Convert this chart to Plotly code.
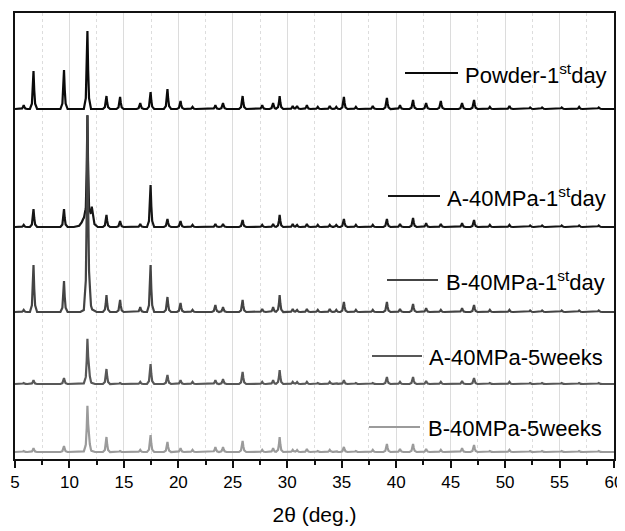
import numpy as np
import plotly.graph_objects as go

# ---------------- data ----------------
# Peak positions (2theta, deg.)
peak_pos = [5.8, 6.7, 9.5, 11.65, 13.4, 14.65, 16.5, 17.45, 19.0, 20.2, 21.3,
            23.4, 24.1, 25.9, 27.7, 28.7, 29.3, 30.5, 30.9, 31.8, 32.8, 33.9,
            34.5, 35.2, 36.3, 37.85, 39.15, 40.35, 41.55, 42.75, 44.1, 46.05,
            47.15, 48.6, 50.4, 52.3, 53.4, 55.2, 56.8, 58.6]

# Peak heights above each pattern's baseline (a.u.)
powder_h = [4, 38, 39, 78, 13, 12, 6, 17, 20, 8, 2,
            4, 6, 13, 4, 6, 13, 3, 3, 4, 2, 3,
            2, 12, 2, 3, 11, 4, 9, 6, 8, 6,
            9, 2, 3, 1.5, 1.5, 1.5, 2, 1.5]
a1_h = [2, 18, 18, 108, 12, 6, 3, 42, 8, 6, 2,
        3, 3, 7, 2, 3, 12, 3, 2, 3, 2, 2,
        2, 8, 2, 2, 8, 3, 9, 4, 3, 4,
        7, 2, 2, 1.5, 1.5, 1.5, 1.5, 1.5]
b1_h = [2, 47, 31, 185, 17, 12, 5, 47, 15, 9, 2,
        7, 5, 12, 3, 5, 17, 3, 2, 3, 2, 3,
        2, 10, 2, 2, 10, 3, 8, 4, 2, 4,
        7, 2, 2, 1.5, 1.5, 1.5, 1.5, 1.5]
a5_h = [1, 4, 6, 40, 15, 1, 2, 20, 9, 4, 2,
        4, 5, 12, 2, 4, 14, 2, 2, 2, 1, 2,
        1, 4, 1, 1, 7, 2, 7, 3, 2, 3,
        6, 1, 2, 1, 1, 1, 1, 1]
b5_h = [1, 4, 6, 41, 15, 1, 2, 17, 10, 4, 2,
        5, 5, 11, 2, 4, 15, 2, 2, 3, 1, 2,
        1, 5, 1, 2, 8, 3, 8, 3, 2, 4,
        7, 1, 2, 1, 1, 1, 1, 1]

# Broad features (position, height, half-base width in deg.)
a1_broad_pos = [11.3, 12.05]
a1_broad_h = [9, 20]
a1_broad_w = [0.9, 0.55]
b1_broad_pos = [11.75]
b1_broad_h = [18]
b1_broad_w = [0.75]
a5_broad_pos = [11.75]
a5_broad_h = [9]
a5_broad_w = [0.6]
b5_broad_pos = [11.75]
b5_broad_h = [9]
b5_broad_w = [0.6]

# Baselines (vertical offset of each pattern, a.u.)
baselines = [350, 232, 147, 75, 7]
names = ["Powder-1<sup>st</sup>day", "A-40MPa-1<sup>st</sup>day",
         "B-40MPa-1<sup>st</sup>day", "A-40MPa-5weeks", "B-40MPa-5weeks"]
colors = ["#0a0a0a", "#161616", "#444444", "#585858", "#9b9b9b"]

x_ticks = [5, 10, 15, 20, 25, 30, 35, 40, 45, 50, 55, 60]

# ---------------- build profiles ----------------
SHAPE_OFF = np.array([-1.0, -0.45, -0.2, 0.0, 0.2, 0.45, 1.0])
SHAPE_FR = np.array([0.0, 0.14, 0.5, 1.0, 0.5, 0.14, 0.0])
NARROW = 0.33


def profile(base, heights, bpos, bh, bw):
    peaks = [(p, h, NARROW) for p, h in zip(peak_pos, heights)]
    peaks += list(zip(bpos, bh, bw))
    xs = {5.0, 60.0}
    for p, h, s in peaks:
        xs.update((p + SHAPE_OFF * s).tolist())
    xs = np.array(sorted(v for v in xs if 5.0 <= v <= 60.0))
    ys = np.full_like(xs, float(base))
    for p, h, s in peaks:
        ys += np.interp(xs, p + SHAPE_OFF * s, h * SHAPE_FR, left=0, right=0)
    return xs, ys


series = [
    (powder_h, [], [], []),
    (a1_h, a1_broad_pos, a1_broad_h, a1_broad_w),
    (b1_h, b1_broad_pos, b1_broad_h, b1_broad_w),
    (a5_h, a5_broad_pos, a5_broad_h, a5_broad_w),
    (b5_h, b5_broad_pos, b5_broad_h, b5_broad_w),
]

fig = go.Figure()
for (h, bp, bh, bw), base, name, col in zip(series, baselines, names, colors):
    xs, ys = profile(base, h, bp, bh, bw)
    fig.add_trace(go.Scatter(x=xs, y=ys, mode="lines", name=name,
                             line=dict(color=col, width=2.2), showlegend=False))

# ---------------- layout ----------------
# page body has an 8px margin; figure sized so the plot area lands at
# page x 15..614, y 13..459
OFF = 8
W, H = 625 - OFF, 531 - OFF
ML, MR, MT, MB = 15 - OFF, 11, 13 - OFF, 72
PW, PH = W - ML - MR, H - MT - MB


def px(xp):  # page pixel -> paper fraction
    return (xp - 15) / PW


def py(yp):
    return (459 - yp) / PH


legend_items = [  # line x0, x1, y, text x (page pixels)
    (405, 458, 73, 463),
    (388, 440, 196, 445),
    (387, 438, 280, 444),
    (372, 422, 356, 427),
    (369, 420, 427, 426),
]
FONT = "Liberation Sans, Arial, sans-serif"
for (x0, x1, yy, tx), name, col in zip(legend_items, names, colors):
    fig.add_shape(type="line", xref="paper", yref="paper",
                  x0=px(x0), x1=px(x1), y0=py(yy), y1=py(yy),
                  line=dict(color=col, width=2.2))
    fig.add_annotation(xref="paper", yref="paper", x=px(tx), y=py(yy + 1),
                       xanchor="left", yanchor="middle", showarrow=False,
                       text=name, font=dict(family=FONT, size=22, color="#000"))

fig.update_layout(
    width=W, height=H,
    margin=dict(l=ML, r=MR, t=MT, b=MB, autoexpand=False),
    paper_bgcolor="white", plot_bgcolor="white",
    font=dict(family=FONT, color="#000"),
)
fig.update_xaxes(
    range=[5, 60], tickvals=x_ticks, ticktext=[str(v) for v in x_ticks],
    automargin=False,
    ticks="outside", ticklen=7, tickwidth=1.5, tickcolor="#111",
    showline=True, linecolor="#111", linewidth=1.8, mirror=True,
    showgrid=True, gridcolor="#dcdcdc", gridwidth=1,
    zeroline=False,
    tickfont=dict(family=FONT, size=17, color="#000"),
    title=dict(text="2θ (deg.)", font=dict(family=FONT, size=21, color="#000"),
               standoff=16),
    minor=dict(dtick=2.5, tick0=5, ticks="outside", ticklen=4, tickwidth=1.5,
               tickcolor="#111", showgrid=True, gridcolor="#dddddd",
               griddash="dot", gridwidth=1),
)
fig.update_yaxes(
    range=[0, PH], showticklabels=False, ticks="", showgrid=False,
    automargin=False,
    zeroline=False, showline=True, linecolor="#111", linewidth=1.8, mirror=True,
)

fig.write_html("out.html")
